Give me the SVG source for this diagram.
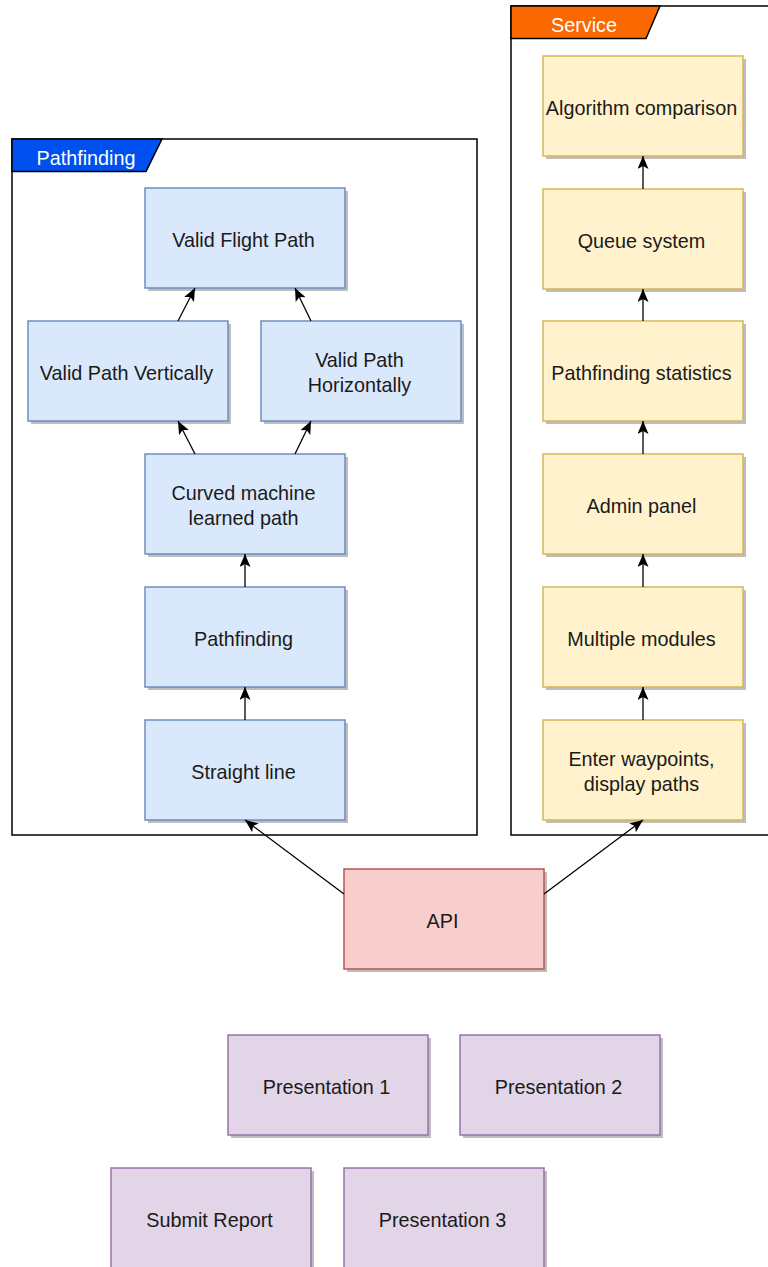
<svg xmlns="http://www.w3.org/2000/svg" width="768" height="1267" viewBox="0 0 768 1267">
<style>
text{font-family:"Liberation Sans",Arial,sans-serif;font-size:19.8px;fill:#1a1a1a;text-anchor:middle}
.tab text{fill:#fff}
.sh{fill:#bdbdbd}
.blue{fill:#dae8fc;stroke:#6c8ebf;stroke-width:1.5}
.yel{fill:#fff2cc;stroke:#d6b656;stroke-width:1.5}
.red{fill:#f8cecc;stroke:#b85450;stroke-width:1.5}
.pur{fill:#e1d5e7;stroke:#9673a6;stroke-width:1.5}
.cont{fill:#fff;stroke:#000;stroke-width:1.5}
.edge{fill:none;stroke:#000;stroke-width:1.3;marker-end:url(#arr)}
</style>
<defs>
<marker id="arr" markerUnits="userSpaceOnUse" markerWidth="15" markerHeight="12" refX="13" refY="5.5" orient="auto">
<path d="M0,0 L13,5.5 L0,11 L3,5.5 Z" fill="#000"/>
</marker>
</defs>
<rect width="768" height="1267" fill="#fff"/>
<g id="pathfinding-container">
<rect class="cont" x="12" y="139" width="465" height="696"/>
<g class="tab"><path d="M12,139 H162 L146,171.5 H12 Z" fill="#0050ef" stroke="#000" stroke-width="1.5"/><text x="86" y="164.5">Pathfinding</text></g>
</g>
<g id="service-container">
<rect class="cont" x="511" y="6" width="280" height="829"/>
<g class="tab"><path d="M511,6 H660 L646,38.5 H511 Z" fill="#fa6800" stroke="#000" stroke-width="1.5"/><text x="584" y="31.5">Service</text></g>
</g>
<g id="valid-flight-path"><rect class="sh" x="148" y="191" width="200" height="100"/><rect class="blue" x="145" y="188" width="200" height="100"/><text x="243.5" y="246.5">Valid Flight Path</text></g>
<g id="valid-path-vertically"><rect class="sh" x="31" y="324" width="200" height="100"/><rect class="blue" x="28" y="321" width="200" height="100"/><text x="126.5" y="379.5">Valid Path Vertically</text></g>
<g id="valid-path-horizontally"><rect class="sh" x="264" y="324" width="200" height="100"/><rect class="blue" x="261" y="321" width="200" height="100"/><text x="359.5" y="367">Valid Path</text><text x="359.5" y="392">Horizontally</text></g>
<g id="curved-path"><rect class="sh" x="148" y="457" width="200" height="100"/><rect class="blue" x="145" y="454" width="200" height="100"/><text x="243.5" y="500">Curved machine</text><text x="243.5" y="525">learned path</text></g>
<g id="pathfinding"><rect class="sh" x="148" y="590" width="200" height="100"/><rect class="blue" x="145" y="587" width="200" height="100"/><text x="243.5" y="645.5">Pathfinding</text></g>
<g id="straight-line"><rect class="sh" x="148" y="723" width="200" height="100"/><rect class="blue" x="145" y="720" width="200" height="100"/><text x="243.5" y="778.5">Straight line</text></g>
<g id="algorithm-comparison"><rect class="sh" x="546" y="59" width="200" height="100"/><rect class="yel" x="543" y="56" width="200" height="100"/><text x="641.5" y="114.5">Algorithm comparison</text></g>
<g id="queue-system"><rect class="sh" x="546" y="192" width="200" height="100"/><rect class="yel" x="543" y="189" width="200" height="100"/><text x="641.5" y="247.5">Queue system</text></g>
<g id="pathfinding-statistics"><rect class="sh" x="546" y="324" width="200" height="100"/><rect class="yel" x="543" y="321" width="200" height="100"/><text x="641.5" y="379.5">Pathfinding statistics</text></g>
<g id="admin-panel"><rect class="sh" x="546" y="457" width="200" height="100"/><rect class="yel" x="543" y="454" width="200" height="100"/><text x="641.5" y="512.5">Admin panel</text></g>
<g id="multiple-modules"><rect class="sh" x="546" y="590" width="200" height="100"/><rect class="yel" x="543" y="587" width="200" height="100"/><text x="641.5" y="645.5">Multiple modules</text></g>
<g id="enter-waypoints"><rect class="sh" x="546" y="723" width="200" height="100"/><rect class="yel" x="543" y="720" width="200" height="100"/><text x="641.5" y="766">Enter waypoints,</text><text x="641.5" y="791">display paths</text></g>
<g id="api"><rect class="sh" x="347" y="872" width="200" height="100"/><rect class="red" x="344" y="869" width="200" height="100"/><text x="442.5" y="927.5">API</text></g>
<g id="presentation-1"><rect class="sh" x="231" y="1038" width="200" height="100"/><rect class="pur" x="228" y="1035" width="200" height="100"/><text x="326.5" y="1093.5">Presentation 1</text></g>
<g id="presentation-2"><rect class="sh" x="463" y="1038" width="200" height="100"/><rect class="pur" x="460" y="1035" width="200" height="100"/><text x="558.5" y="1093.5">Presentation 2</text></g>
<g id="submit-report"><rect class="sh" x="114" y="1171" width="200" height="100"/><rect class="pur" x="111" y="1168" width="200" height="100"/><text x="209.5" y="1226.5">Submit Report</text></g>
<g id="presentation-3"><rect class="sh" x="347" y="1171" width="200" height="100"/><rect class="pur" x="344" y="1168" width="200" height="100"/><text x="442.5" y="1226.5">Presentation 3</text></g>
<g id="connectors">
<path class="edge" d="M178,321 L195,288"/>
<path class="edge" d="M311,321 L295,288"/>
<path class="edge" d="M195,454 L178,421"/>
<path class="edge" d="M295,454 L311,421"/>
<path class="edge" d="M245,587 L245,554"/>
<path class="edge" d="M245,720 L245,687"/>
<path class="edge" d="M344,894 L245,820"/>
<path class="edge" d="M544,894 L643,820"/>
<path class="edge" d="M643,720 L643,687"/>
<path class="edge" d="M643,587 L643,554"/>
<path class="edge" d="M643,454 L643,421"/>
<path class="edge" d="M643,321 L643,289"/>
<path class="edge" d="M643,189 L643,156"/>
</g>
</svg>
